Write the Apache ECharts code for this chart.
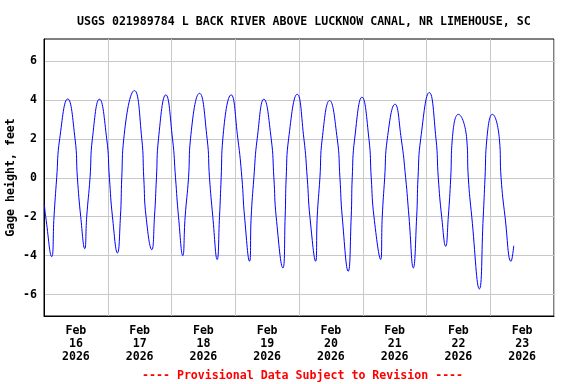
<!DOCTYPE html>
<html>
<head>
<meta charset="utf-8">
<script src="https://cdn.jsdelivr.net/npm/echarts@6/dist/echarts.min.js"></script>
<style>html,body{margin:0;padding:0;background:#fff}#c{width:576px;height:384px}</style>
</head>
<body>
<div id="c"></div>
<script>
// Time in days since 2026-02-16 00:00
const tDays = [
  0.006, 0.027, 0.121, 0.157, 0.199, 0.246, 0.372, 0.487, 0.524, 0.576, 0.639, 0.670, 0.722, 0.759,
  0.870, 0.984, 1.026, 1.074, 1.152, 1.199, 1.220, 1.251, 1.419, 1.534, 1.565, 1.601, 1.691, 1.733,
  1.764, 1.796, 1.911, 2.016, 2.063, 2.110, 2.177, 2.214, 2.267, 2.298, 2.440, 2.559, 2.596, 2.648,
  2.716, 2.753, 2.779, 2.805, 2.936, 3.041, 3.104, 3.146, 3.224, 3.250, 3.292, 3.344, 3.449, 3.564,
  3.606, 3.642, 3.747, 3.783, 3.799, 3.837, 3.972, 4.077, 4.129, 4.171, 4.261, 4.286, 4.328, 4.364,
  4.480, 4.600, 4.642, 4.678, 4.772, 4.819, 4.835, 4.873, 4.988, 5.097, 5.133, 5.176, 5.281, 5.306,
  5.344, 5.385, 5.506, 5.604, 5.673, 5.725, 5.793, 5.846, 5.867, 5.909, 6.044, 6.149, 6.185, 6.238,
  6.301, 6.342, 6.380, 6.405, 6.499, 6.631, 6.656, 6.710, 6.829, 6.890, 6.918, 6.947, 7.033, 7.143,
  7.170, 7.232, 7.326, 7.369
];
// Gage height, feet
const gageHeight = [
  -1.38, -2.0, -4.05, -2.0, 0, 2, 4.05, 2, 0, -2, -3.64, -2, 0, 2,
  4.04, 2, 0, -2, -3.86, -2, 0, 2, 4.48, 2, 0, -2, -3.69, -2,
  0, 2, 4.26, 2, 0, -2, -4.0, -2, 0, 2, 4.34, 2, 0, -2,
  -4.2, -2, 0, 2, 4.26, 2, 0, -2, -4.29, -2, 0, 2, 4.04, 2,
  0, -2, -4.63, -2, 0, 2, 4.29, 2, 0, -2, -4.29, -2, 0, 2,
  3.97, 2, 0, -2, -4.8, -2, 0, 2, 4.14, 2, 0, -2, -4.2, -2,
  0, 2, 3.78, 2, 0, -2, -4.63, -2, 0, 2, 4.38, 2, 0, -2,
  -3.52, -2, 0, 2, 3.26, 2, 0, -2, -5.71, -2, 0, 2, 3.26, 2,
  0, -2, -4.29, -3.49
];
const xTickDays = [0, 1, 2, 3, 4, 5, 6, 7, 8];
const xLabelDays = [0.5, 1.5, 2.5, 3.5, 4.5, 5.5, 6.5, 7.5];
const xLabels = ['Feb\n16\n2026', 'Feb\n17\n2026', 'Feb\n18\n2026', 'Feb\n19\n2026',
                 'Feb\n20\n2026', 'Feb\n21\n2026', 'Feb\n22\n2026', 'Feb\n23\n2026'];
const yTicks = [-6, -4, -2, 0, 2, 4, 6];
const titleText = 'USGS 021989784 L BACK RIVER ABOVE LUCKNOW CANAL, NR LIMEHOUSE, SC';
const footerText = '---- Provisional Data Subject to Revision ----';
const yName = 'Gage height, feet';

const FONT = 'DejaVu Sans Mono';
const chart = echarts.init(document.getElementById('c'), null, {renderer: 'canvas'});
chart.setOption({
  animation: false,
  backgroundColor: '#ffffff',
  title: [
    {text: titleText, left: 72, top: 11,
     textStyle: {fontFamily: FONT, fontWeight: 'bold', fontSize: 11.6, color: '#000'}},
    {text: footerText, left: 137, top: 365,
     textStyle: {fontFamily: FONT, fontWeight: 'bold', fontSize: 11.6, color: '#ff0000'}}
  ],
  grid: {left: 44, right: 22, top: 39, bottom: 68, containLabel: false, outerBoundsMode: 'none',
         show: true, borderColor: '#000', borderWidth: 1, backgroundColor: 'transparent'},
  xAxis: {
    type: 'value', min: 0, max: 8,
    axisLine: {show: true, onZero: false, lineStyle: {color: '#000', width: 1}},
    axisTick: {show: false, customValues: xTickDays},
    splitLine: {show: true, lineStyle: {color: '#c8c8c8', width: 1}},
    axisLabel: {
      customValues: xLabelDays, margin: 8, lineHeight: 13,
      fontFamily: FONT, fontWeight: 'bold', fontSize: 11.6, color: '#000',
      formatter: v => xLabels[Math.floor(v)]
    }
  },
  yAxis: {
    type: 'value', min: -7.1, max: 7.13,
    name: yName, nameLocation: 'middle', nameGap: 27, nameRotate: 90, nameMoveOverlap: false,
    nameTextStyle: {fontFamily: FONT, fontWeight: 'bold', fontSize: 11.6, color: '#000'},
    axisLine: {show: true, onZero: false, lineStyle: {color: '#000', width: 1}},
    axisTick: {show: false, customValues: yTicks},
    splitLine: {show: true, lineStyle: {color: '#c8c8c8', width: 1}},
    axisLabel: {customValues: yTicks, margin: 7, fontFamily: FONT, fontWeight: 'bold', fontSize: 11.6, color: '#000'}
  },
  series: [{
    type: 'line', showSymbol: false, smooth: 0.5,
    lineStyle: {color: '#0000ff', width: 1},
    data: tDays.map((t, i) => [t, gageHeight[i]])
  }]
});
</script>
</body>
</html>
